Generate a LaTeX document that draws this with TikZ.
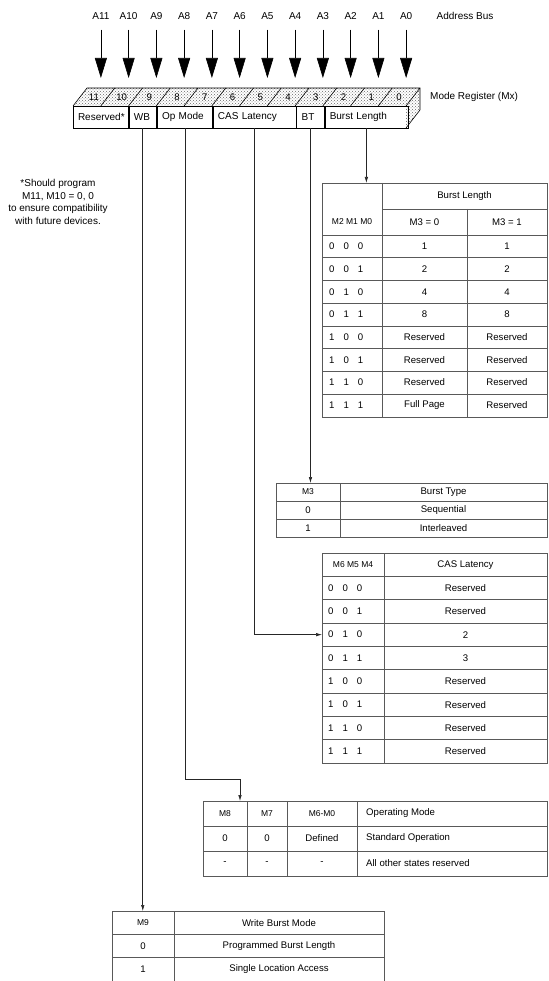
\documentclass[tikz,border=0pt]{standalone}
\usepackage{fontspec}
\setmainfont{Liberation Sans}
\usetikzlibrary{arrows.meta,patterns,positioning}

\newcommand{\bitrow}[3]{#1\hspace{9pt}#2\hspace{9pt}#3}

\begin{document}
\begin{tikzpicture}[x=1pt,y=-1pt,
  lbl/.style={inner sep=0pt,font=\fontsize{10}{12}\selectfont},
  fld/.style={draw,rectangle,inner xsep=5pt,inner ysep=0pt,minimum height=22pt,align=left,font=\fontsize{10}{12}\selectfont},
  txt/.style={inner sep=0pt,font=\fontsize{9.6}{11}\selectfont},
  hdr/.style={inner sep=0pt,font=\fontsize{8.5}{10}\selectfont},
  tab/.style={draw=black!65,rectangle,inner sep=0pt,line width=0.6pt},
  tl/.style={line width=0.6pt},
  gl/.style={draw=black!65,line width=0.6pt},
  bus/.style={-{Triangle[length=20pt,width=12pt]},line width=0.6pt},
  wire/.style={-{Latex[length=6pt,width=3.5pt]},line width=0.6pt,draw=black!85}]
  \useasboundingbox (0,0) rectangle (548,981);

  % register, dotted top and side
  \fill[pattern=crosshatch dots,pattern color=black!60]
    (73,106) -- (87,88) -- (420,88) -- (420,110) -- (406,128) -- (406,106) -- cycle;
  \draw[tl] (73,106) -- (87,88) -- (420,88) -- (420,110) -- (406,128);
  \draw[tl] (406,106) -- (420,88);
  \foreach \k in {1,...,11}
    \draw[tl] ({73+27.75*\k},106) -- ++(14,-18);

  % bit numbers, address lines
  \foreach \k in {0,...,11}{
    \pgfmathtruncatemacro{\b}{11-\k}
    \node[txt] (m\b) at ({73+27.75*(\k+0.5)+7},97) {\b};
    \coordinate (t\b) at ({73+27.75*(\k+0.5)+14},78);
    \node[lbl] (a\b) at ({73+27.75*(\k+0.5)+14},16) {A\b};
    \draw[bus,shorten <=10pt] (a\b.south) -- (t\b);
  }
  \node[lbl,right=24pt of a0] (abus) {Address Bus};
  \node[lbl,anchor=west] (mreg) at (430,97) {Mode Register (Mx)};

  % register fields
  \node[fld,text width=45.5pt] (res) at (100.75,117) {Reserved*};
  \node[fld,text width=17.75pt,right=0pt of res] (wb) {WB};
  \node[fld,text width=45.5pt,right=0pt of wb] (op) {Op Mode};
  \node[fld,text width=73.25pt,right=0pt of op] (cas) {CAS Latency};
  \node[fld,text width=17.75pt,right=0pt of cas] (bt) {BT};
  \node[fld,text width=73.25pt,right=0pt of bt] (bl) {Burst Length};

  \node[lbl,align=center,font=\fontsize{10}{12.6}\selectfont] (note) at (58,202)
    {*Should program\\M11, M10 = 0, 0\\to ensure compatibility\\with future devices.};

  % burst length
  \node[tab,minimum width=225pt,minimum height=233.6pt,anchor=north west] (bltab) at (322,183) {};
  \draw[gl] (382,183) -- (382,416.6);
  \draw[gl] (382,209) -- (547,209);
  \draw[gl] (467,209) -- (467,416.6);
  \foreach \k in {0,...,7} \draw[gl] (322,{235+22.7*\k}) -- (547,{235+22.7*\k});
  \node[txt] (blh) at (464.5,196) {Burst Length};
  \node[hdr] (blm) at (352,222) {M2 M1 M0};
  \node[txt] (blh0) at (424.5,222) {M3 = 0};
  \node[txt] (blh1) at (507,222) {M3 = 1};
  \foreach \i/\x/\y/\z/\p/\q in {1/0/0/0/1/1,2/0/0/1/2/2,3/0/1/0/4/4,4/0/1/1/8/8,
      5/1/0/0/Reserved/Reserved,6/1/0/1/Reserved/Reserved,7/1/1/0/Reserved/Reserved,8/1/1/1/Full Page/Reserved}{
    \node[txt,anchor=west] (bl\i) at (329,{235+22.7*(\i-0.5)}) {\bitrow\x\y\z};
    \node[txt] (bl\i-a) at (424.5,{235+22.7*(\i-0.5)}) {\p};
    \node[txt] (bl\i-b) at (507,{235+22.7*(\i-0.5)}) {\q};
  }

  % burst type
  \node[tab,minimum width=271pt,minimum height=54pt,anchor=north west] (bttab) at (276,483) {};
  \draw[gl] (340,483) -- (340,537);
  \draw[gl] (276,501) -- (547,501);
  \draw[gl] (276,519) -- (547,519);
  \node[hdr] (bth) at (308,492) {M3};
  \node[txt] (btt) at (443.5,492) {Burst Type};
  \node[txt] (bt0) at (308,510) {0};
  \node[txt] (bt0-a) at (443.5,510) {Sequential};
  \node[txt] (bt1) at (308,528) {1};
  \node[txt] (bt1-a) at (443.5,528) {Interleaved};

  % cas latency
  \node[tab,minimum width=225pt,minimum height=210pt,anchor=north west] (castab) at (322,553) {};
  \draw[gl] (384,553) -- (384,763);
  \foreach \k in {1,...,8} \draw[gl] (322,{553+23.33*\k}) -- (547,{553+23.33*\k});
  \node[hdr] (cash) at (353,564.7) {M6 M5 M4};
  \node[txt] (cast) at (465.5,564.7) {CAS Latency};
  \foreach \i/\x/\y/\z/\p in {1/0/0/0/Reserved,2/0/0/1/Reserved,3/0/1/0/2,4/0/1/1/3,
      5/1/0/0/Reserved,6/1/0/1/Reserved,7/1/1/0/Reserved,8/1/1/1/Reserved}{
    \node[txt,anchor=west] (cas\i) at (328,{553+23.33*(\i+0.5)}) {\bitrow\x\y\z};
    \node[txt] (cas\i-a) at (465.5,{553+23.33*(\i+0.5)}) {\p};
  }

  % operating mode
  \node[tab,minimum width=344pt,minimum height=75pt,anchor=north west] (optab) at (203,801) {};
  \foreach \c in {247,287,357} \draw[gl] (\c,801) -- (\c,876);
  \draw[gl] (203,826) -- (547,826);
  \draw[gl] (203,851) -- (547,851);
  \node[hdr] (oph1) at (225,813.5) {M8};
  \node[hdr] (oph2) at (267,813.5) {M7};
  \node[hdr] (oph3) at (322,813.5) {M6-M0};
  \node[txt,anchor=west] (oph4) at (366,813.5) {Operating Mode};
  \node[txt] (op11) at (225,838.5) {0};
  \node[txt] (op12) at (267,838.5) {0};
  \node[txt] (op13) at (322,838.5) {Defined};
  \node[txt,anchor=west] (op14) at (366,838.5) {Standard Operation};
  \node[txt] (op21) at (225,863.5) {-};
  \node[txt] (op22) at (267,863.5) {-};
  \node[txt] (op23) at (322,863.5) {-};
  \node[txt,anchor=west] (op24) at (366,863.5) {All other states reserved};

  % write burst mode
  \node[tab,minimum width=272pt,minimum height=69.5pt,anchor=north west] (m9tab) at (112,911) {};
  \draw[gl] (174,911) -- (174,980.5);
  \draw[gl] (112,934.3) -- (384,934.3);
  \draw[gl] (112,957.7) -- (384,957.7);
  \node[hdr] (m9h) at (143,922.7) {M9};
  \node[txt] (m9t) at (279,922.7) {Write Burst Mode};
  \node[txt] (m90) at (143,946) {0};
  \node[txt] (m90-a) at (279,946) {Programmed Burst Length};
  \node[txt] (m91) at (143,969.3) {1};
  \node[txt] (m91-a) at (279,969.3) {Single Location Access};

  % fields to tables
  \coordinate (opturn) at (240,779);
  \draw[wire] (bl.south) -- (bl.south |- bltab.north);
  \draw[wire] (bt.south) -- (bt.south |- bttab.north);
  \draw[wire] (cas.south) |- (cas3.west -| castab.west);
  \draw[wire] (op.south) |- (opturn) -- (opturn |- optab.north);
  \draw[wire] (wb.south) -- (wb.south |- m9tab.north);
\end{tikzpicture}
\end{document}
